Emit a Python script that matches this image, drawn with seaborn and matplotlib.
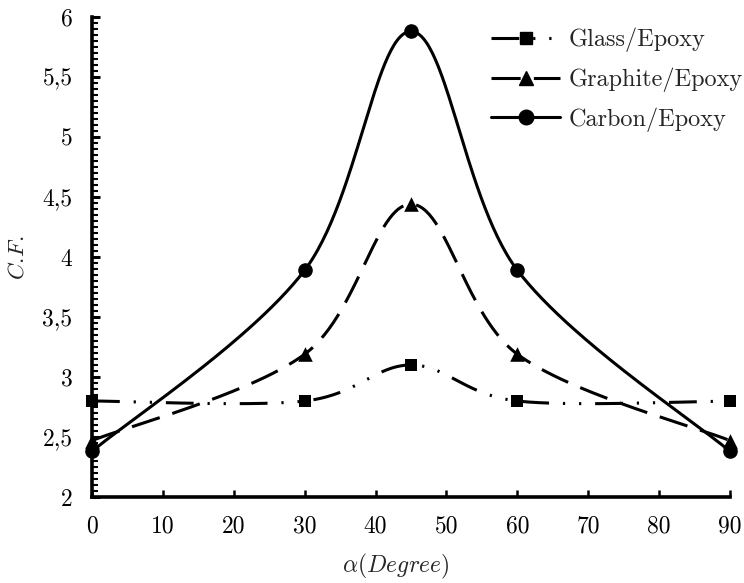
import numpy as np
import pandas as pd
import matplotlib
matplotlib.use("Agg")
import matplotlib.pyplot as plt
import seaborn as sns
from matplotlib.lines import Line2D
from matplotlib.ticker import MultipleLocator, FuncFormatter

# ---- data ----
angles = [0, 30, 45, 60, 90]
glass = [2.80, 2.80, 3.10, 2.80, 2.80]
graphite = [2.47, 3.19, 4.44, 3.19, 2.47]
carbon = [2.38, 3.89, 5.88, 3.89, 2.38]
series_names = ["Glass/Epoxy", "Graphite/Epoxy", "Carbon/Epoxy"]
x_ticks = [0, 10, 20, 30, 40, 50, 60, 70, 80, 90]
y_ticks = [2, 2.5, 3, 3.5, 4, 4.5, 5, 5.5, 6]

sns.set_theme(style="ticks")
plt.rcParams["font.family"] = ["cmr10", "DejaVu Serif"]
plt.rcParams["mathtext.fontset"] = "cm"
plt.rcParams["axes.unicode_minus"] = False
plt.rcParams["lines.scale_dashes"] = False


def smooth(xs, ys, n=60):
    """Excel-style smoothed line (cubic Bezier through the data points)."""
    P = np.column_stack([xs, ys]).astype(float)
    pts = []
    t = np.linspace(0, 1, n)[:, None]
    for i in range(len(P) - 1):
        p0 = P[max(i - 1, 0)]
        p1 = P[i]
        p2 = P[i + 1]
        p3 = P[min(i + 2, len(P) - 1)]
        c1 = p1 + (p2 - p0) / 6.0
        c2 = p2 - (p3 - p1) / 6.0
        B = ((1 - t) ** 3) * p1 + 3 * ((1 - t) ** 2) * t * c1 + 3 * (1 - t) * t ** 2 * c2 + t ** 3 * p2
        pts.append(B if i == 0 else B[1:])
    B = np.vstack(pts)
    return B[:, 0], B[:, 1]


fig = plt.figure(figsize=(7.44, 5.83), dpi=100)
ax = fig.add_axes([92 / 744, 1 - 497 / 583, (730 - 92) / 744, (497 - 17) / 583])

lw = 2.2
styles = {
    "Glass/Epoxy": dict(marker="s", ms=8.5, dashes=(0, (20, 10, 1.6, 10, 1.6, 10))),
    "Graphite/Epoxy": dict(marker="^", ms=10.5, dashes=(0, (21, 9.5))),
    "Carbon/Epoxy": dict(marker="o", ms=10.5, dashes=None),
}

handles = []
for name, vals in zip(series_names, [glass, graphite, carbon]):
    st = styles[name]
    cx, cy = smooth(angles, vals)
    curve = pd.DataFrame({"x": cx, "y": cy})
    sns.lineplot(data=curve, x="x", y="y", sort=False, estimator=None, ax=ax,
                 color="black", lw=lw, clip_on=False)
    line = ax.lines[-1]
    if st["dashes"] is not None:
        line.set_linestyle(st["dashes"])
    line.set_dash_capstyle("butt")
    pts = pd.DataFrame({"x": angles, "y": vals})
    sns.scatterplot(data=pts, x="x", y="y", ax=ax, marker=st["marker"],
                    s=st["ms"] ** 2, color="black", edgecolor="black",
                    linewidth=0, clip_on=False, zorder=5)
    h = Line2D([], [], color="black", lw=lw, marker=st["marker"], ms=st["ms"],
               linestyle=st["dashes"] if st["dashes"] is not None else "-")
    h.set_dash_capstyle("butt")
    handles.append(h)

ax.set_xlim(0, 90)
ax.set_ylim(2, 6)
ax.set_xticks(x_ticks)
ax.set_yticks(y_ticks)
ax.yaxis.set_minor_locator(MultipleLocator(0.05))
fmt = FuncFormatter(lambda v, p: (f"{v:g}").replace(".", ","))
ax.yaxis.set_major_formatter(fmt)
ax.xaxis.set_major_formatter(FuncFormatter(lambda v, p: f"{v:g}"))

for s in ["top", "right"]:
    ax.spines[s].set_visible(False)
for s in ["left", "bottom"]:
    ax.spines[s].set_linewidth(2.6)
    ax.spines[s].set_color("black")

ax.tick_params(axis="y", which="major", direction="in", length=5.5, width=2.2,
               pad=14, labelsize=17, colors="black")
ax.tick_params(axis="y", which="minor", direction="in", length=4.2, width=1.5, colors="black")
ax.tick_params(axis="x", which="major", direction="in", length=5.0, width=1.8,
               pad=13, labelsize=17, colors="black")

ax.set_xlabel(r"$\alpha(Degree)$", fontsize=17)
ax.set_ylabel(r"$C.\!F.$", fontsize=16.5)
ax.xaxis.set_label_coords((396 - 92) / 638, -(552 - 497) / 480)
ax.yaxis.set_label_coords(-(92 - 28) / 638, (497 - 258) / 480)

leg = ax.legend(handles, series_names, loc="upper left",
                bbox_to_anchor=(491 / 744, 1 - 28 / 583), bbox_transform=fig.transFigure,
                frameon=False, fontsize=17.5, handlelength=2.85, handletextpad=0.33,
                labelspacing=0.62, borderpad=0, borderaxespad=0)

fig.savefig("out.png", dpi=100, facecolor="white")
